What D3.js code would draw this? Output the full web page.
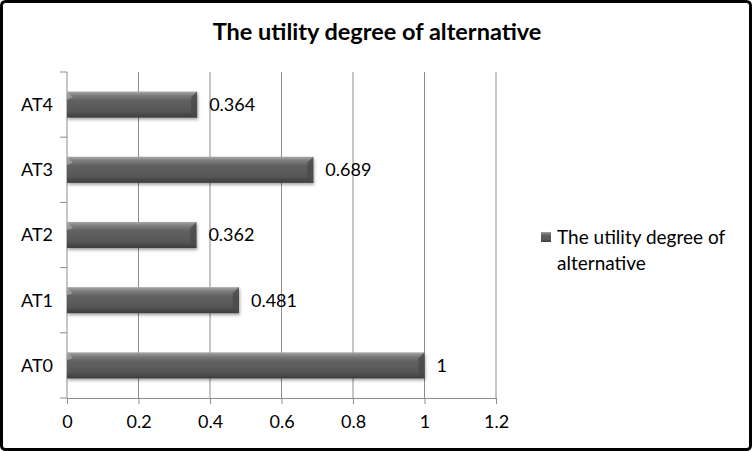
<!DOCTYPE html>
<html>
<head>
<meta charset="utf-8">
<script src="https://cdn.jsdelivr.net/npm/d3@7"></script>
<style>
  body { margin: 0; background: #fff; }
  text { font-family: Lato, "Open Sans", sans-serif; fill: #000; }
</style>
</head>
<body>
<script>
    /*
    ** Chart data
    */
    var categories = ["AT0", "AT1", "AT2", "AT3", "AT4"]
      , values = [1, 0.481, 0.362, 0.689, 0.364]
      , valueLabels = ["1", "0.481", "0.362", "0.689", "0.364"]
      , xTicks = [0, 0.2, 0.4, 0.6, 0.8, 1, 1.2]
      , seriesName = ["The utility degree of", "alternative"]
      , title = "The utility degree of alternative"
    ;

    var width = 752, height = 451
      , plotLeft = 67, plotRight = 496, plotTop = 72, plotBottom = 398
      , fontSize = "18px"
    ;

    var svg = d3.select("body").append("svg")
        .attr("width", width)
        .attr("height", height)
    ;

    var defs = svg.append("defs");
    var grad = defs.append("linearGradient")
        .attr("id", "barGrad")
        .attr("x1", 0).attr("y1", 0).attr("x2", 0).attr("y2", 1)
    ;
    [[0, "#a8a8a8"], [0.15, "#7c7c7c"], [0.35, "#606060"], [0.75, "#575757"], [1, "#3c3c3c"]]
      .forEach(function(s) {
          grad.append("stop").attr("offset", s[0]).attr("stop-color", s[1]);
        })
    ;
    var shadow = defs.append("filter").attr("id", "shadow")
        .attr("x", "-5%").attr("y", "-20%").attr("width", "110%").attr("height", "160%");
    shadow.append("feDropShadow")
        .attr("dx", 1).attr("dy", 2).attr("stdDeviation", 1.5)
        .attr("flood-color", "#000").attr("flood-opacity", 0.35)
    ;

    // outer frame
    svg.append("rect")
        .attr("x", 1.5).attr("y", 1.5)
        .attr("width", width - 3).attr("height", height - 3)
        .attr("rx", 4)
        .attr("fill", "#fff")
        .attr("stroke", "#000")
        .attr("stroke-width", 3)
    ;

    svg.append("text")
        .attr("x", 377).attr("y", 40)
        .attr("text-anchor", "middle")
        .style("font-size", "23.5px")
        .style("font-weight", "bold")
        .text(title)
    ;

    var x = d3.scaleLinear().domain([0, 1.2]).range([plotLeft, plotRight]);
    var y = d3.scaleBand().domain(categories.slice().reverse()).range([plotTop, plotBottom]).paddingInner(0.6).paddingOuter(0.3);
    var yb = d3.scaleBand().domain(categories.slice().reverse()).range([plotTop, plotBottom]);

    // gridlines
    svg.append("g").selectAll("line")
        .data(xTicks.slice(1))
      .enter().append("line")
        .attr("x1", function(d) { return x(d); })
        .attr("x2", function(d) { return x(d); })
        .attr("y1", plotTop).attr("y2", plotBottom)
        .attr("stroke", "#8c8c8c")
        .attr("stroke-width", 1)
    ;

    // x axis
    var xAxis = svg.append("g")
        .attr("transform", "translate(0," + plotBottom + ")")
        .call(d3.axisBottom(x).tickValues(xTicks).tickFormat(d3.format("~g")).tickSizeOuter(0).tickSize(6).tickPadding(11))
    ;
    xAxis.select(".domain").attr("stroke", "#8c8c8c");
    xAxis.selectAll(".tick line").attr("stroke", "#8c8c8c");
    xAxis.selectAll("text").style("font-size", fontSize).style("font-family", "Lato, 'Open Sans', sans-serif");

    // y axis (category boundaries as ticks)
    var yAxis = svg.append("g")
        .attr("transform", "translate(" + plotLeft + ",0)")
    ;
    yAxis.append("line")
        .attr("x1", 0).attr("x2", 0).attr("y1", plotTop).attr("y2", plotBottom)
        .attr("stroke", "#8c8c8c")
    ;
    var bounds = categories.map(function(c) { return yb(c); }).concat([plotBottom]);
    yAxis.selectAll("line.tk")
        .data(bounds)
      .enter().append("line")
        .attr("class", "tk")
        .attr("x1", -7).attr("x2", 0)
        .attr("y1", function(d) { return d; })
        .attr("y2", function(d) { return d; })
        .attr("stroke", "#8c8c8c")
    ;
    yAxis.selectAll("text")
        .data(categories)
      .enter().append("text")
        .attr("x", -14)
        .attr("y", function(c) { return yb(c) + yb.bandwidth() / 2; })
        .attr("dy", "0.35em")
        .attr("text-anchor", "end")
        .style("font-size", fontSize)
        .text(function(c) { return c; })
    ;

    // bars
    var bars = svg.append("g").selectAll("g")
        .data(categories)
      .enter().append("g")
    ;
    bars.append("rect")
        .attr("x", x(0))
        .attr("y", function(c) { return y(c); })
        .attr("width", function(c, i) { return x(values[i]) - x(0); })
        .attr("height", y.bandwidth())
        .attr("fill", "url(#barGrad)")
        .attr("filter", "url(#shadow)")
    ;
    // bevel at the right end
    bars.append("path")
        .attr("d", function(c, i) {
            var x1 = x(values[i]), y0 = y(c), h = y.bandwidth(), b = 6;
            return "M" + (x1 - b) + "," + (y0 + b) + "L" + x1 + "," + y0 + "L" + x1 + "," + (y0 + h) + "L" + (x1 - b) + "," + (y0 + h - 3) + "Z";
          })
        .attr("fill", "#4a4a4a")
        .attr("opacity", 0.8)
    ;
    bars.append("path")
        .attr("d", function(c, i) {
            var x0 = x(0), y0 = y(c), b = 6;
            return "M" + x0 + "," + y0 + "L" + (x0 + b) + "," + (y0 + b) + "L" + x0 + "," + (y0 + b + 2) + "Z";
          })
        .attr("fill", "#aaa")
        .attr("opacity", 0.7)
    ;
    bars.append("text")
        .attr("x", function(c, i) { return x(values[i]) + 12; })
        .attr("y", function(c) { return y(c) + y.bandwidth() / 2; })
        .attr("dy", "0.35em")
        .style("font-size", fontSize)
        .text(function(c, i) { return valueLabels[i]; })
    ;

    // legend
    var legend = svg.append("g").attr("transform", "translate(541,232)");
    legend.append("rect")
        .attr("x", 0).attr("y", 0).attr("width", 10).attr("height", 10)
        .attr("fill", "url(#barGrad)")
    ;
    legend.selectAll("text")
        .data(seriesName)
      .enter().append("text")
        .attr("x", 16)
        .attr("y", function(d, i) { return 5 + i * 26; })
        .attr("dy", "0.35em")
        .style("font-size", "19px")
        .text(function(d) { return d; })
    ;
</script>
</body>
</html>
